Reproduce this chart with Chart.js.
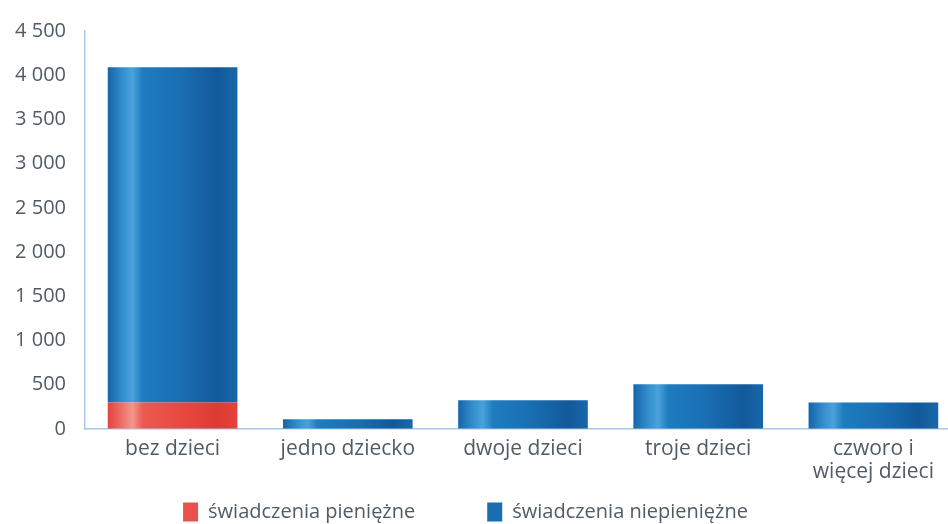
<!DOCTYPE html>
<html>
<head>
<meta charset="utf-8">
<script src="https://cdn.jsdelivr.net/npm/chart.js@4/dist/chart.umd.min.js"></script>
<style>
  html, body { margin: 0; padding: 0; background: #fff; overflow: hidden; }
  #wrap { width: 961px; height: 524px; }
</style>
</head>
<body>
<div id="wrap"><canvas id="c" width="961" height="524"></canvas></div>
<script>
// kategorie i wartości
const categories = ['bez dzieci', 'jedno dziecko', 'dwoje dzieci', 'troje dzieci', ['czworo i', 'więcej dzieci']];
const pieniezne = [300, 0, 0, 0, 0];
const niepieniezne = [3790, 110, 325, 505, 300];
const yTicks = [0, 500, 1000, 1500, 2000, 2500, 3000, 3500, 4000, 4500];

const BAR_FRACTION = 0.74;
const textCol = '#4f5b66';
const axisCol = '#a9c7e6';
const fontFam = '"Open Sans", sans-serif';

// poziomy gradient "walca" dla pojedynczego słupka
function barGradient(stops, fallback) {
    return (ctx) => {
        const chart = ctx.chart;
        const area = chart.chartArea;
        if (!area || ctx.type !== 'data') return fallback;
        const xs = chart.scales.x;
        const cx = xs.getPixelForValue(ctx.dataIndex);
        const w = (area.width / categories.length) * BAR_FRACTION;
        const g = chart.ctx.createLinearGradient(cx - w / 2, 0, cx + w / 2, 0);
        stops.forEach(([p, c]) => g.addColorStop(p, c));
        return g;
    };
}

const blueStops = [[0, '#1565a8'], [0.12, '#3590cf'], [0.19, '#4aa2da'], [0.27, '#1f7bbf'], [0.55, '#1a6fb3'], [0.85, '#11599a'], [1, '#1868ab']];
const redStops  = [[0, '#e2443d'], [0.12, '#ef746b'], [0.19, '#f3968d'], [0.27, '#ec5a51'], [0.6, '#e8463e'], [0.85, '#dc3a33'], [1, '#e4443d']];

new Chart(document.getElementById('c'), {
    type: 'bar',
    data: {
        labels: categories,
        datasets: [
            { label: 'świadczenia pieniężne', data: pieniezne, backgroundColor: barGradient(redStops, '#e8524c'), borderWidth: 0 },
            { label: 'świadczenia niepieniężne', data: niepieniezne, backgroundColor: barGradient(blueStops, '#1a6db0'), borderWidth: 0 },
        ],
    },
    options: {
        responsive: false,
        animation: false,
        layout: { padding: { left: 0, top: 14, right: 0, bottom: -8 } },
        datasets: { bar: { barPercentage: 1, categoryPercentage: BAR_FRACTION } },
        plugins: {
            tooltip: { enabled: false },
            legend: {
                position: 'bottom',
                labels: {
                    color: textCol,
                    font: { family: fontFam, size: 20 },
                    boxWidth: 15,
                    boxHeight: 19,
                    padding: 2,
                    generateLabels: (chart) => chart.data.datasets.map((d, i) => ({
                        text: d.label + (i === 0 ? '\u2003\u2003\u2003\u2002' : '\u2003\u2002'),
                        fillStyle: i === 0 ? '#e8524c' : '#1a6db0',
                        strokeStyle: 'transparent',
                        lineWidth: 0,
                        fontColor: textCol,
                        datasetIndex: i,
                    })),
                },
            },
        },
        scales: {
            x: {
                stacked: true,
                grid: { color: 'transparent', drawTicks: false },
                border: { display: true, color: axisCol, width: 1.5 },
                ticks: { color: textCol, padding: 8, font: { family: fontFam, size: 21, lineHeight: 1.1 } },
                afterFit: (scale) => { scale.height = 71; },
            },
            y: {
                stacked: true,
                min: 0,
                max: 4500,
                grid: { color: 'transparent', drawTicks: false },
                border: { display: true, color: axisCol, width: 1.5 },
                afterBuildTicks: (axis) => { axis.ticks = yTicks.map((v) => ({ value: v })); },
                afterFit: (scale) => { scale.width = 85; },
                ticks: {
                    color: textCol,
                    padding: 19,
                    font: { family: fontFam, size: 20 },
                    callback: (v) => String(v).replace(/\B(?=(\d{3})+(?!\d))/g, ' '),
                },
            },
        },
    },
});
</script>
</body>
</html>
